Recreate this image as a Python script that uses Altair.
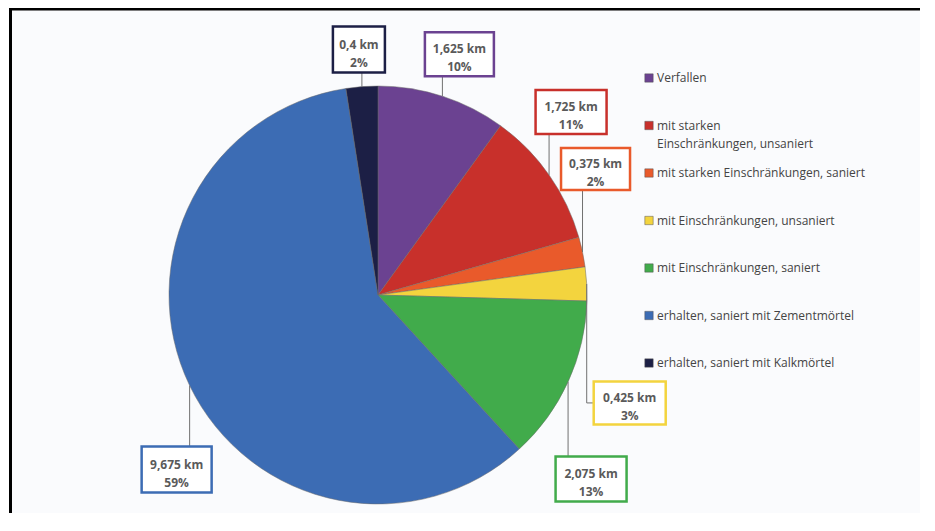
import altair as alt
import pandas as pd

# ---- data ----
categories = [
    "Verfallen",
    "mit starken Einschränkungen, unsaniert",
    "mit starken Einschränkungen, saniert",
    "mit Einschränkungen, unsaniert",
    "mit Einschränkungen, saniert",
    "erhalten, saniert mit Zementmörtel",
    "erhalten, saniert mit Kalkmörtel",
]
values_km = [1.625, 1.725, 0.375, 0.425, 2.075, 9.675, 0.4]
legend_labels = [
    "Verfallen",
    "mit starken\nEinschränkungen, unsaniert",
    "mit starken Einschränkungen, saniert",
    "mit Einschränkungen, unsaniert",
    "mit Einschränkungen, saniert",
    "erhalten, saniert mit Zementmörtel",
    "erhalten, saniert mit Kalkmörtel",
]

# ---- styles / layout ----
colors = ["#6B4291", "#C8302B", "#E95A2B", "#F3D43E", "#41AB4B", "#3C6CB4", "#1C1F45"]
label_dx = [17, 22, 13, 43, 23, -13, -3]
label_dy = [-42, -63, -83, 119, 97, 84, -37]
box_w = [69, 71, 69, 72, 71, 70, 52]
box_h = [44, 44, 42, 43, 45, 46, 46]
elbow = [0, 0, 0, 1, 0, 0, 0]

CX, CY, R = 370, 287, 209
FONT = "Open Sans"
W, H = 912, 505

total = sum(values_km)
km_text = [f"{v:g}".replace(".", ",") + " km" for v in values_km]
pct_text = [f"{round(v / total * 100)}%" for v in values_km]

df = pd.DataFrame({
    "category": categories, "value": values_km, "order": list(range(len(categories))),
    "label": [k + "\n" + p for k, p in zip(km_text, pct_text)],
    "legend": legend_labels, "ldx": label_dx, "ldy": label_dy,
    "bw": box_w, "bh": box_h, "elbow": elbow,
})
cscale = alt.Scale(domain=categories, range=colors)
one = pd.DataFrame({"a": [0]})

bg = alt.Chart(one).mark_rect(fill="#FAFBFD", strokeWidth=0).encode(
    x=alt.value(2), x2=alt.value(W), y=alt.value(1), y2=alt.value(H))
frame_top = alt.Chart(one).mark_rule(color="black", strokeWidth=3).encode(
    x=alt.value(1), x2=alt.value(W), y=alt.value(1), y2=alt.value(1))
frame_left = alt.Chart(one).mark_rule(color="black", strokeWidth=3).encode(
    x=alt.value(2.5), x2=alt.value(2.5), y=alt.value(0), y2=alt.value(H))

pie = alt.Chart(df).mark_arc(outerRadius=R, stroke="#6a6a6a", strokeWidth=0.5).encode(
    theta=alt.Theta("value:Q", stack=True),
    color=alt.Color("category:N", scale=cscale, legend=None),
    order=alt.Order("order:Q"), x=alt.value(CX), y=alt.value(CY))

geo = alt.Chart(df).transform_joinaggregate(total="sum(value)").transform_window(
    cum="sum(value)", sort=[alt.SortField("order")], frame=[None, 0]
).transform_calculate(
    mid="(datum.cum - datum.value / 2) / datum.total * 2 * PI",
    ax=f"{CX} + {R} * sin(datum.mid)", ay=f"{CY} - {R} * cos(datum.mid)",
    bx="datum.ax + datum.ldx", by="datum.ay + datum.ldy",
    x0="datum.bx - datum.bw / 2", x1="datum.bx + datum.bw / 2",
    y0="datum.by - datum.bh / 2", y1="datum.by + datum.bh / 2",
    ey="datum.elbow ? datum.by : (datum.ldy < 0 ? datum.y1 : datum.y0)",
    ex="datum.elbow ? datum.x0 : datum.ax",
)
lead1 = geo.mark_rule(color="#707070", strokeWidth=1).encode(
    x=alt.X("ax:Q", scale=None), y=alt.Y("ay:Q", scale=None), x2="ax:Q", y2="ey:Q")
lead2 = geo.mark_rule(color="#707070", strokeWidth=1).encode(
    x=alt.X("ax:Q", scale=None), y=alt.Y("ey:Q", scale=None), x2="ex:Q", y2="ey:Q")
boxes = geo.mark_rect(fill="white", strokeWidth=2.5).encode(
    x=alt.X("x0:Q", scale=None), x2="x1:Q", y=alt.Y("y0:Q", scale=None), y2="y1:Q",
    stroke=alt.Stroke("category:N", scale=cscale, legend=None))
box_text = geo.mark_text(lineBreak="\n", lineHeight=18, fontSize=12, fontWeight="bold",
    font=FONT, color="#5A5A5A", baseline="middle", align="center", dy=-5).encode(
    x=alt.X("bx:Q", scale=None), y=alt.Y("by:Q", scale=None), text="label:N")

leg = alt.Chart(df).transform_calculate(ly="70 + datum.order * 47.5")
leg_sq = leg.mark_square(size=70, opacity=1, stroke="#555555", strokeWidth=0.5).encode(
    x=alt.value(641), y=alt.Y("ly:Q", scale=None),
    color=alt.Color("category:N", scale=cscale, legend=None))
leg_txt = leg.mark_text(lineBreak="\n", lineHeight=18, fontSize=12, font=FONT,
    color="#444444", align="left", baseline="alphabetic", dy=4).encode(
    x=alt.value(649), y=alt.Y("ly:Q", scale=None), text="legend:N")

chart = alt.layer(bg, frame_top, frame_left, pie, lead1, lead2, boxes, box_text, leg_sq, leg_txt
).properties(width=W, height=H, autosize=alt.AutoSizeParams(type="none"), padding=0,
    background="white").configure_view(stroke=None)
chart.save("out.html", embed_options={"renderer": "svg", "actions": False})
